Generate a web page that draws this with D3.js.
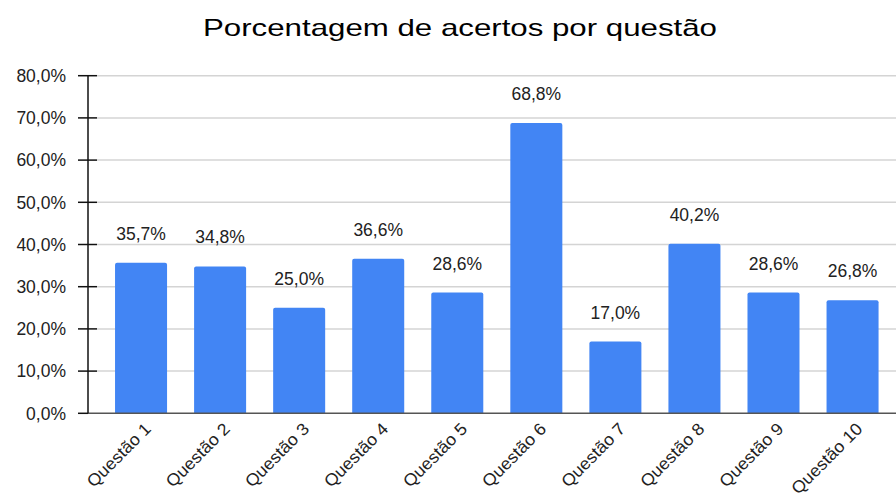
<!DOCTYPE html>
<html>
<head>
<meta charset="utf-8">
<script src="https://cdn.jsdelivr.net/npm/d3@7"></script>
<style>
  body { margin: 0; background: #fff; }
  text { font-family: "Liberation Sans", Arial, sans-serif; }
</style>
</head>
<body>
<div id="chart"></div>
<script>
// Data
const questoes = ["Questão 1","Questão 2","Questão 3","Questão 4","Questão 5",
                  "Questão 6","Questão 7","Questão 8","Questão 9","Questão 10"];
const acertos = [35.7, 34.8, 25.0, 36.6, 28.6, 68.8, 17.0, 40.2, 28.6, 26.8];
const yTicks = [0, 10, 20, 30, 40, 50, 60, 70, 80];
const titulo = "Porcentagem de acertos por questão";

const width = 896, height = 502;
const fmt = d => d.toFixed(1).replace(".", ",") + "%";

const svg = d3.select("#chart").append("svg")
  .attr("width", width)
  .attr("height", height);

// scales
const y = d3.scaleLinear().domain([0, 80]).range([413.3, 75.7]);
const x = d3.scaleBand()
  .domain(questoes)
  .range([88, 905.6])
  .paddingInner(0.342)
  .paddingOuter(0.342);

// title
svg.append("text")
  .attr("x", 460)
  .attr("y", 36)
  .attr("text-anchor", "middle")
  .attr("textLength", 514)
  .attr("lengthAdjust", "spacingAndGlyphs")
  .style("font-size", "24px")
  .style("fill", "#000")
  .text(titulo);

// gridlines
svg.append("g")
  .selectAll("line")
  .data(yTicks.filter(d => d > 0))
  .enter()
  .append("line")
    .attr("x1", 97)
    .attr("x2", width)
    .attr("y1", d => y(d))
    .attr("y2", d => y(d))
    .attr("stroke", "#d4d4d4")
    .attr("stroke-width", 1.5)

// bars (rounded top corners)
const r = 2;
svg.append("g")
  .selectAll("path")
  .data(acertos)
  .enter()
  .append("path")
    .attr("d", (d, i) => {
      const x0 = x(questoes[i]), w = x.bandwidth(), y0 = y(d), yb = y(0);
      return `M${x0},${yb} V${y0 + r} Q${x0},${y0} ${x0 + r},${y0} H${x0 + w - r} Q${x0 + w},${y0} ${x0 + w},${y0 + r} V${yb} Z`;
    })
    .style("fill", "#4285f4")

// value labels
svg.append("g")
  .selectAll("text")
  .data(acertos)
  .enter()
  .append("text")
    .attr("x", (d, i) => x(questoes[i]) + x.bandwidth() / 2)
    .attr("y", d => y(d) - 23)
    .attr("text-anchor", "middle")
    .style("font-size", "17.5px")
    .style("fill", "#222")
    .text(d => fmt(d))

// baseline
svg.append("line")
  .attr("x1", 88).attr("x2", width)
  .attr("y1", y(0)).attr("y2", y(0))
  .attr("stroke", "#555")
  .attr("stroke-width", 1.5)

// y axis line and ticks
svg.append("line")
  .attr("x1", 88).attr("x2", 88)
  .attr("y1", y(80)).attr("y2", y(0))
  .attr("stroke", "#111")
  .attr("stroke-width", 1.5)

svg.append("g")
  .selectAll("line")
  .data(yTicks)
  .enter()
  .append("line")
    .attr("x1", 78)
    .attr("x2", d => d == 0 ? 88 : 97)
    .attr("y1", d => y(d))
    .attr("y2", d => y(d))
    .attr("stroke", "#111")
    .attr("stroke-width", 1.5)

// y tick labels
svg.append("g")
  .selectAll("text")
  .data(yTicks)
  .enter()
  .append("text")
    .attr("x", 66)
    .attr("y", d => y(d))
    .attr("dy", "0.36em")
    .attr("text-anchor", "end")
    .style("font-size", "17.5px")
    .style("fill", "#222")
    .text(d => fmt(d))

// x labels, rotated
svg.append("g")
  .selectAll("text")
  .data(questoes)
  .enter()
  .append("text")
    .attr("transform", d => `translate(${x(d) + x.bandwidth() / 2 + 11},430) rotate(-45)`)
    .attr("text-anchor", "end")
    .style("font-size", "17px")
    .style("fill", "#222")
    .text(d => d)
    .each(function() {
      // labels in the reference are drawn slightly wider than the font
      const w = this.getComputedTextLength();
      d3.select(this).attr("textLength", w * 1.05).attr("lengthAdjust", "spacingAndGlyphs");
    })
</script>
</body>
</html>
